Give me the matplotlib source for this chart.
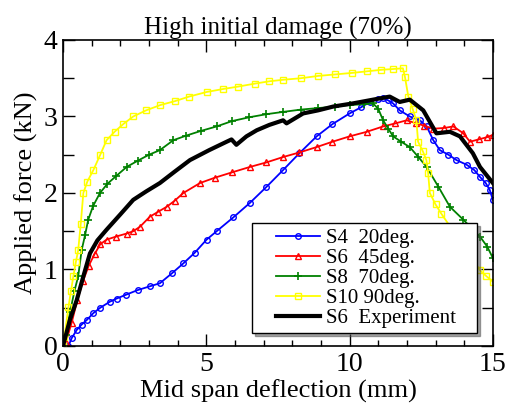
import matplotlib
matplotlib.use("Agg")
import matplotlib.pyplot as plt
import numpy as np
from matplotlib.ticker import MultipleLocator
from matplotlib.legend_handler import HandlerLine2D

plt.rcParams['font.family'] = ['Liberation Serif', 'DejaVu Serif']
plt.rcParams['mathtext.fontset'] = 'stix'

# S4 20deg
s4_x = [0.19, 0.3, 0.48, 0.65, 0.83, 1.06, 1.3, 1.64, 1.87, 2.2, 2.6, 3.03, 3.38, 3.8,
        4.2, 4.6, 5.01, 5.36, 5.94, 6.52, 7.1, 7.68, 8.25, 8.85, 9.4, 10.0, 10.4, 10.71,
        11.0, 11.17, 11.35, 11.52, 11.75, 12.1, 12.45, 12.69, 12.92, 13.15, 13.45, 13.73,
        14.08, 14.35, 14.55, 14.75, 14.89, 15.0]
s4_y = [0.0, 0.1, 0.21, 0.28, 0.34, 0.43, 0.5, 0.58, 0.62, 0.67, 0.73, 0.78, 0.82, 0.95,
        1.08, 1.22, 1.39, 1.5, 1.68, 1.87, 2.08, 2.3, 2.52, 2.74, 2.9, 3.04, 3.12, 3.19,
        3.23, 3.24, 3.21, 3.17, 3.08, 3.0, 2.95, 2.87, 2.69, 2.56, 2.5, 2.43,
        2.37, 2.3, 2.21, 2.13, 2.04, 1.91]

# S6 45deg
s6_x = [0.0, 0.1, 0.3, 0.5, 0.7, 0.9, 1.1, 1.3, 1.52, 1.85, 2.22, 2.45, 2.69, 3.03, 3.3,
        3.62, 3.9, 4.2, 4.78, 5.3, 5.9, 6.52, 7.1, 7.68, 8.25, 8.85, 9.4, 10.0, 10.6,
        11.17, 11.6, 11.99, 12.33, 12.6, 12.92, 13.3, 13.62, 13.97, 14.2, 14.5, 14.8, 15.0]
s6_y = [0.0, 0.05, 0.3, 0.6, 0.85, 1.05, 1.2, 1.33, 1.39, 1.43, 1.47, 1.5, 1.56, 1.69, 1.75,
        1.82, 1.9, 2.0, 2.13, 2.2, 2.27, 2.34, 2.4, 2.47, 2.53, 2.6, 2.67, 2.74, 2.8,
        2.87, 2.91, 2.95, 2.91, 2.88, 2.84, 2.85, 2.87, 2.78, 2.67, 2.7, 2.73, 2.76]

# S8 70deg
s8_x = [0.0, 0.1, 0.25, 0.4, 0.53, 0.65, 0.77, 0.88, 1.05, 1.29, 1.55, 1.85, 2.22, 2.6,
        3.0, 3.38, 3.85, 4.3, 4.8, 5.36, 5.9, 6.5, 7.1, 7.68, 8.3, 8.9, 9.5, 10.0, 10.5,
        10.82, 11.0, 11.17, 11.35, 11.52, 11.8, 12.1, 12.4, 12.69, 13.1, 13.5, 13.97,
        14.55, 14.8, 15.0]
s8_y = [0.0, 0.15, 0.45, 0.72, 0.91, 1.25, 1.45, 1.65, 1.83, 2.0, 2.12, 2.22, 2.34, 2.42,
        2.5, 2.56, 2.69, 2.75, 2.81, 2.87, 2.94, 2.99, 3.03, 3.06, 3.09, 3.11, 3.13, 3.15, 3.16,
        3.17, 3.1, 2.95, 2.84, 2.74, 2.67, 2.6, 2.47, 2.34, 2.08, 1.82, 1.65,
        1.43, 1.3, 1.15]

# S10 90deg
s10_x = [0.0, 0.05, 0.19, 0.28, 0.36, 0.45, 0.53, 0.62, 0.71, 0.85, 1.06, 1.3, 1.52, 1.8,
         2.1, 2.45, 2.9, 3.4, 3.9, 4.4, 5.01, 5.6, 6.1, 6.7, 7.2, 7.68, 8.3, 8.9, 9.5,
         10.1, 10.6, 11.1, 11.5, 11.86, 11.93, 12.05, 12.2, 12.33, 12.39, 12.55, 12.68,
         12.74, 12.8, 13.0, 13.2, 14.55, 14.75, 15.0]
s10_y = [0.0, 0.12, 0.51, 0.72, 0.91, 1.1, 1.25, 1.6, 2.0, 2.15, 2.3, 2.5, 2.69, 2.8,
         2.9, 3.0, 3.08, 3.15, 3.2, 3.26, 3.32, 3.36, 3.39, 3.43, 3.46, 3.48, 3.5, 3.53, 3.55,
         3.57, 3.59, 3.61, 3.62, 3.63, 3.52, 3.26, 3.1, 2.95, 2.67, 2.55, 2.43,
         2.26, 2.0, 1.85, 1.73, 0.99, 0.92, 0.84]

# S6 experiment
exp_x = [0.0, 0.24, 0.48, 0.71, 0.94, 1.2, 1.52, 2.0, 2.45, 2.9, 3.38, 3.9, 4.43, 5.1, 5.71,
         5.88, 6.05, 6.4, 6.76, 7.2, 7.68, 7.8, 8.38, 8.9, 9.43, 10.1, 10.82, 11.4, 11.75,
         12.1, 12.57, 13.03, 13.5, 13.85, 14.3, 14.55, 15.0]
exp_y = [0.0, 0.34, 0.6, 0.91, 1.21, 1.38, 1.52, 1.72, 1.91, 2.02, 2.13, 2.28, 2.43, 2.56, 2.67,
         2.70, 2.63, 2.74, 2.82, 2.89, 2.95, 2.91, 3.04, 3.08, 3.13, 3.17, 3.22, 3.26, 3.19,
         3.22, 3.08, 2.78, 2.80, 2.74, 2.52, 2.34, 2.13]


class RightLine(HandlerLine2D):
    # draw the legend line only on the right part of the handle box
    def get_xdata(self, legend, xdescent, ydescent, width, height, fontsize):
        x0 = -xdescent + 0.29 * width
        x1 = -xdescent + width
        return np.array([x0, x1]), np.array([(x0 + x1) / 2])


fig = plt.figure(figsize=(5.13, 4.08), dpi=100)
ax = fig.add_axes([0.1228, 0.152, 0.838, 0.750])

mk = dict(markersize=4, markerfacecolor='none', markeredgewidth=1.0, linewidth=1.3)
ax.plot(s4_x, s4_y, color='#0000ff', marker='o', label='S4  20deg.', **mk)
ax.plot(s6_x, s6_y, color='#ff0000', marker='^', label='S6  45deg.', **mk)
ax.plot(s8_x, s8_y, color='#008000', marker='+', label='S8  70deg.', markersize=6,
        markeredgewidth=1.2, linewidth=1.3)
ax.plot(s10_x, s10_y, color='#ffff00', marker='s', label='S10 90deg.', **mk)
ax.plot(exp_x, exp_y, color='black', linewidth=3.0, label='S6  Experiment   ')

ax.set_xlim(0, 15)
ax.set_ylim(0, 4)
ax.xaxis.set_major_locator(MultipleLocator(5))
ax.xaxis.set_minor_locator(MultipleLocator(1))
ax.yaxis.set_major_locator(MultipleLocator(1))
ax.yaxis.set_minor_locator(MultipleLocator(0.5))
ax.tick_params(which='both', direction='in', top=True, right=True, labelsize=20, pad=4)
ax.tick_params(which='major', length=8.5, width=1)
ax.tick_params(axis='x', which='minor', length=4.5, width=1)
ax.tick_params(axis='y', which='minor', length=8, width=1)
for s in ax.spines.values():
    s.set_linewidth(1.2)

ax.set_xlabel('Mid span deflection (mm)', fontsize=19, labelpad=2)
ax.set_ylabel('Applied force (kN)', fontsize=19, labelpad=4)
ax.set_title('High initial damage (70%)', fontsize=18, pad=3)

leg = ax.legend(loc='lower right', bbox_to_anchor=(0.963, 0.042), fontsize=15,
                frameon=True, fancybox=False, shadow=True, edgecolor='black',
                framealpha=1, handlelength=3.0, borderpad=0.25, labelspacing=0.02,
                handletextpad=0.29, borderaxespad=0,
                handler_map={matplotlib.lines.Line2D: RightLine()})
leg.get_frame().set_linewidth(1.0)

fig.savefig('out.png', dpi=100)
